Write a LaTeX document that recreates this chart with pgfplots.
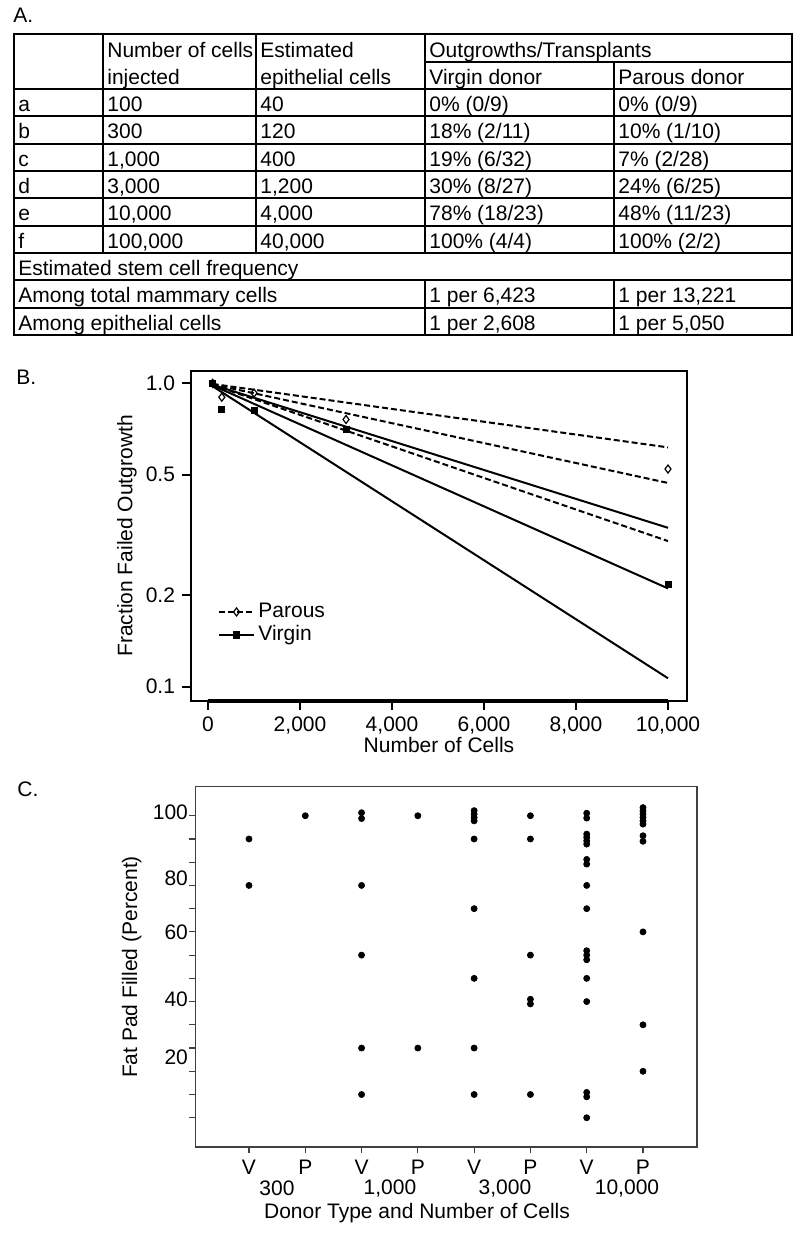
\documentclass[border=0pt]{standalone}
\usepackage{fontspec}
\setmainfont{Liberation Sans}
\usepackage{pgfplots}
\pgfplotsset{compat=1.18}
\newcommand\T[3]{\node[anchor=base west,inner sep=0pt] at (#1,#2) {#3};}
\begin{document}
\fontsize{10.5}{12.6}\selectfont
\begin{tikzpicture}
\useasboundingbox (0,0) rectangle (400pt,-617.5pt);
\begin{scope}[x=0.5pt,y=-0.5pt]
  % ---------- Panel A: table ----------
  \T{13}{23}{A.}
  \draw[line width=0.9pt] (14,34) rectangle (792,335);
  \foreach \yy in {89,116.3,143.7,171,198.3,225.7,253,280.3,307.7}
    \draw[line width=0.9pt] (14,\yy) -- (792,\yy);
  \draw[line width=0.9pt] (425,62) -- (792,62);
  \foreach \xx in {103,256,425} \draw[line width=0.9pt] (\xx,34) -- (\xx,253);
  \draw[line width=0.9pt] (614,62) -- (614,253);
  \foreach \xx in {425,614} \draw[line width=0.9pt] (\xx,280.3) -- (\xx,335);
  % header
  \T{107}{57.5}{Number of cells}
  \T{107}{84.5}{injected}
  \T{260}{57.5}{Estimated}
  \T{260}{84.5}{epithelial cells}
  \T{429}{57.5}{Outgrowths/Transplants}
  \T{429}{84.5}{Virgin donor}
  \T{618}{84.5}{Parous donor}
  % rows
  \T{18}{111.5}{a}\T{107}{111.5}{100}\T{260}{111.5}{40}\T{429}{111.5}{0\% (0/9)}\T{618}{111.5}{0\% (0/9)}
  \T{18}{139}{b}\T{107}{139}{300}\T{260}{139}{120}\T{429}{139}{18\% (2/11)}\T{618}{139}{10\% (1/10)}
  \T{18}{166.5}{c}\T{107}{166.5}{1,000}\T{260}{166.5}{400}\T{429}{166.5}{19\% (6/32)}\T{618}{166.5}{7\% (2/28)}
  \T{18}{193.5}{d}\T{107}{193.5}{3,000}\T{260}{193.5}{1,200}\T{429}{193.5}{30\% (8/27)}\T{618}{193.5}{24\% (6/25)}
  \T{18}{221}{e}\T{107}{221}{10,000}\T{260}{221}{4,000}\T{429}{221}{78\% (18/23)}\T{618}{221}{48\% (11/23)}
  \T{18}{248.5}{f}\T{107}{248.5}{100,000}\T{260}{248.5}{40,000}\T{429}{248.5}{100\% (4/4)}\T{618}{248.5}{100\% (2/2)}
  \T{18}{275.5}{Estimated stem cell frequency}
  \T{18}{303}{Among total mammary cells}\T{429}{303}{1 per 6,423}\T{618}{303}{1 per 13,221}
  \T{18}{330.5}{Among epithelial cells}\T{429}{330.5}{1 per 2,608}\T{618}{330.5}{1 per 5,050}
  % panel labels
  \T{16}{384}{B.}
  \T{17}{796}{C.}
  % B x label and C labels below axis
  \node[inner sep=0pt] at (439,745) {Number of Cells};
  \node[inner sep=0pt] at (277,1188) {300};
  \node[inner sep=0pt] at (390,1188) {1,000};
  \node[inner sep=0pt] at (505,1188) {3,000};
  \node[inner sep=0pt] at (627,1188) {10,000};
  \node[inner sep=0pt] at (417,1213) {Donor Type and Number of Cells};
  \node[inner sep=0pt, rotate=90] at (127,536) {Fraction Failed Outgrowth};
  \node[inner sep=0pt, rotate=90] at (131.7,967) {Fat Pad Filled (Percent)};
\end{scope}

% ---------- Panel B ----------
\begin{axis}[
  at={(95.5pt,-350.5pt)}, anchor=south west,
  scale only axis, width=248pt, height=165pt,
  font=\fontsize{10.5}{12.6}\selectfont,
  /pgf/number format/assume math mode=true,
  ymode=log, ymin=0.0897, ymax=1.098,
  xmin=-370, xmax=10413,
  scaled x ticks=false,
  xtick={0,2000,4000,6000,8000,10000},
  xticklabels={0,{2,000},{4,000},{6,000},{8,000},{10,000}},
  ytick={0.1,0.2,0.5,1}, yticklabels={0.1,0.2,0.5,1.0},
  yminorticks=false,
  tick align=outside, major tick length=4.3pt,
  xtick pos=left, ytick pos=left,
  axis line style={line width=1pt},
  every tick/.style={black, line width=1pt},
  clip=false,
  legend style={at={(0.055,0.31)}, anchor=north west, draw=none, fill=none,
    inner sep=0pt, row sep=-1.5pt, font=\fontsize{10.5}{12.6}\selectfont},
  legend cell align=left,
]
\draw[line width=2pt] (axis cs:0,0.0897) -- (axis cs:10000,0.0897);
% Parous (dashed): estimate and 95% CI
\addplot[black, line width=1pt, dash pattern=on 3pt off 1.5pt, forget plot] coordinates {(100,0.99515) (10000,0.615)};
\addplot[black, line width=1pt, dash pattern=on 3pt off 1.5pt, forget plot] coordinates {(100,0.9925) (10000,0.4694)};
\addplot[black, line width=1pt, dash pattern=on 3pt off 1.5pt, forget plot] coordinates {(100,0.9881) (10000,0.302)};
% Virgin (solid): estimate and 95% CI
\addplot[black, line width=1pt, forget plot] coordinates {(100,0.9891) (10000,0.334)};
\addplot[black, line width=1pt, forget plot] coordinates {(100,0.9845) (10000,0.2108)};
\addplot[black, line width=1pt, forget plot] coordinates {(100,0.9779) (10000,0.1066)};
% observed points
\addplot[black, only marks, mark=diamond, mark size=2pt, mark options={line width=0.6pt}, forget plot]
  coordinates {(100,1.0) (300,0.9) (1000,0.9286) (3000,0.76) (10000,0.5217)};
\addplot[black, only marks, mark=square*, mark size=1.5pt, forget plot]
  coordinates {(100,1.0) (300,0.818) (1000,0.8125) (3000,0.7037) (10000,0.2174)};
\addlegendimage{black, line width=0.8pt, dash pattern=on 3pt off 1.5pt, mark=diamond, mark size=2pt, mark options={solid, line width=0.6pt}}
\addlegendentry{Parous}
\addlegendimage{black, line width=0.8pt, mark=square*, mark size=1.5pt, mark options={solid}}
\addlegendentry{Virgin}
\end{axis}

% ---------- Panel C ----------
\begin{axis}[
  at={(97.65pt,-573.5pt)}, anchor=south west,
  scale only axis, width=250.85pt, height=180.15pt,
  font=\fontsize{10.5}{12.6}\selectfont,
  /pgf/number format/assume math mode=true,
  xmin=0.046, xmax=8.96, ymin=-1.26, ymax=14.25,
  xtick={1,2,3,4,5,6,7,8}, xticklabels={V,P,V,P,V,P,V,P},
  ytick={0,1,2,3,4,5,6,7,8,9,10,11,12,13}, yticklabels={},
  extra y ticks={13.17,10.3,8.0,5.1,2.6},
  extra y tick labels={100,80,60,40,20},
  extra y tick style={major tick length=0pt},
  tick align=outside, major tick length=3pt,
  xtick pos=left, ytick pos=left,
  axis line style={black!75, line width=0.6pt},
  every tick/.style={black!75, line width=0.6pt},
  clip=false,
]
\addplot[black, only marks, mark=*, mark size=1.5pt] table {
x y
1 12
1 10
2 13
3 13.13
3 12.88
3 10
3 7
3 3
3 1
4 13
4 3
5 13.22
5 13.07
5 12.92
5 12.78
5 12
5 9
5 6
5 3
5 1
6 13
6 12
6 7
6 5.1
6 4.9
6 1
7 13.11
7 12.9
7 12.21
7 12.07
7 11.92
7 11.78
7 11.12
7 10.92
7 10
7 9
7 7.19
7 7.0
7 6.8
7 6
7 5
7 1.09
7 0.9
7 0
8 13.35
8 13.21
8 13.07
8 12.93
8 12.78
8 12.64
8 12.14
8 11.9
8 8
8 4
8 2
};
\end{axis}
\end{tikzpicture}
\end{document}
